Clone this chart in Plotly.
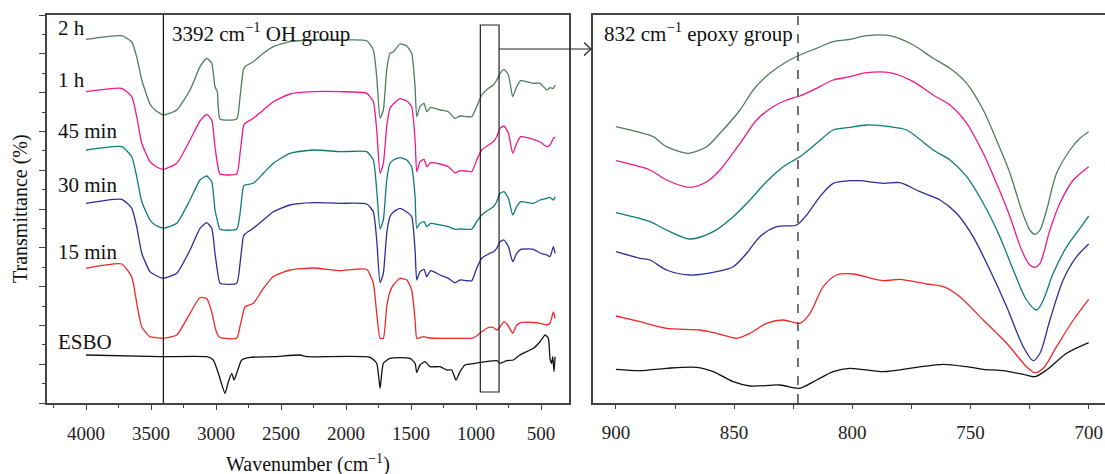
import plotly.graph_objects as go

# ---------------- data (left panel: full spectrum) ----------------
wn_full = [4000, 3725, 3648, 3610, 3571, 3508, 3469, 3405, 3302, 3200, 3123, 3072, 3033, 3008, 2990,
           2969, 2841, 2815, 2790, 2777, 2713, 2636, 2559, 2431, 2251, 2046, 1841, 1790, 1764, 1738,
           1713, 1687, 1662, 1636, 1585, 1533, 1495, 1469, 1456, 1431, 1400, 1379, 1349, 1277, 1213,
           1162, 1123, 1072, 1033, 995, 956, 905, 867, 841, 815, 785, 751, 718, 687, 656,
           559, 508, 456, 431, 405, 392]

t_2h = [363.7, 367.3, 361, 346, 323, 299, 293, 288, 293, 313, 336.3, 344.7, 339.7, 316.3, 311.3,
        284, 284, 306.3, 333, 336.3, 341.3, 349.7, 356.3, 361.3, 363, 363, 362.3, 353, 326.3, 284.7,
        293, 333, 349.7, 351.3, 359, 357, 349.7, 316.3, 286.3, 296.3, 299.7, 291.3, 295.7, 293, 291.3,
        284.7, 287, 286.3, 286.3, 296.3, 308, 314.7, 318, 323, 329.7, 333.7, 328, 306.3, 316.3, 322.3,
        319.7, 319.7, 313, 315.3, 314.7, 318]
t_1h = [311.3, 314.7, 306.3, 286.3, 259.7, 241.3, 237, 233.7, 239.7, 263, 282, 288.7, 283, 256.3, 240,
        229, 229, 249.7, 276.3, 279.7, 284.7, 293, 301.3, 309, 311.3, 311.3, 309.7, 301.3, 273, 229.7,
        239.7, 276.3, 294.7, 299, 304.3, 302, 296.3, 263, 231.3, 241.3, 243.7, 236.3, 240.3, 239, 236.3,
        230.3, 232.3, 232, 231.3, 243, 253, 258, 261.3, 266.3, 274.7, 277, 269.7, 249.7, 259.7, 266.3,
        263.7, 261, 256.3, 258, 264.7, 266]
t_45m = [253, 256.3, 246.3, 226.3, 201.3, 183, 178, 174.7, 179.7, 203, 223, 227, 221.3, 193, 183,
         173.7, 173.7, 189.7, 216.3, 218, 219.7, 229.7, 239.7, 249.7, 253, 251.3, 251.3, 243, 213, 174,
         183, 223, 239.7, 243, 245.3, 243, 236.3, 206.3, 174.7, 179.7, 181.3, 176.3, 179.7, 178, 176.3,
         173.7, 174, 173.7, 173.7, 181.3, 188, 193, 196.3, 201.3, 209.7, 211.3, 204.7, 188, 196.3, 201.3,
         199.7, 203, 204.7, 205.7, 203, 206.3]
t_30m = [199.7, 203.7, 194.7, 176.3, 149.7, 131.3, 128, 124.7, 129.7, 153, 174.7, 180.3, 174.7, 149.7, 133,
         119.7, 119.7, 139.7, 166.3, 169, 174.7, 183, 191.3, 198, 200.3, 199.7, 199, 191.3, 163, 120.3,
         129.7, 169.7, 186.3, 191, 194.7, 191, 186.3, 153, 123, 131.3, 133.7, 126.3, 132.3, 128, 124.7,
         120.3, 123, 122.3, 122.3, 134.7, 144.7, 149, 151.3, 154.7, 161.3, 163, 156.3, 141.3, 149.7, 153.7,
         153.7, 150, 148, 146.3, 156.3, 149.7]
t_15m = [134.7, 139, 126, 100, 76, 66.3, 65.5, 64.7, 68, 89.7, 105.5, 104.5, 91, 76, 69,
         65.5, 64.7, 77, 91, 96.3, 99.7, 114.5, 126.5, 133, 135, 132.3, 133.7, 119.7, 89.7, 64.7,
         64.7, 96.3, 111.3, 118, 124.7, 123, 113, 83, 64.7, 65.5, 66.3, 65.5, 65, 64.7, 64.7,
         64.7, 64.7, 64.7, 64.7, 67, 71.3, 75.5, 75.5, 73, 76, 81.3, 77, 69.7, 78, 80.5,
         80.5, 79.7, 78, 80, 91, 84.7]

wn_esbo = [4000, 3431, 3072, 3021, 2982, 2931, 2905, 2879, 2861, 2841, 2802, 2738, 2559, 2354, 2302,
           1815, 1764, 1738, 1713, 1662, 1508, 1469, 1456, 1431, 1392, 1354, 1277, 1225, 1187, 1154,
           1123, 1085, 1008, 841, 815, 764, 713, 662, 559, 508, 469, 444, 431, 418, 410, 400, 392]
t_esbo = [48, 46.3, 46.3, 43, 29.7, 9.7, 21.3, 29.7, 23, 29.7, 43, 45.7, 46.3, 48, 46.3,
          45.7, 39.7, 14.7, 39.7, 44.7, 44.7, 39.7, 30.5, 38, 41.3, 36.3, 36.3, 33, 33, 23,
          31.3, 38, 39.7, 42.3, 39.7, 42.3, 43, 48, 54.7, 61.3, 68, 64.7, 44.7, 39.7, 46.3, 31.3, 46.3]

# ---------------- data (right panel: 900-700 cm-1 zoom) ----------------
z_wn_2h = [900, 888.5, 884.2, 878.6, 869.4, 861.6, 856, 847.5, 841.9, 834.9, 827.8, 822.2, 815.1, 808.1,
           801, 793.9, 784.1, 774.2, 765.8, 758.7, 751.6, 744.6, 739, 733.3, 728.4, 724.9, 722.8, 720.6,
           717.8, 713.6, 707.9, 703.7, 700]
z_t_2h = [276.3, 269.7, 266.3, 256.3, 249.7, 256.3, 269.7, 293, 313, 329.7, 341.3, 348, 354.7, 361.3,
          363.7, 367.3, 367.3, 358, 344.7, 334.7, 319.7, 293, 263, 229.7, 193, 173, 168.7, 173,
          193, 229.7, 253, 264.7, 271.3]
z_wn_1h = [900, 885.6, 878.6, 868.7, 861.6, 856, 847.5, 840.5, 833.5, 827.8, 822.2, 815.1, 808.1, 801,
           793.9, 784.1, 774.2, 765.8, 758.7, 751.6, 744.6, 739, 733.3, 728.4, 724.9, 722.8, 720.6, 716.4,
           712.2, 706.5, 700]
z_t_1h = [242.3, 233, 223, 215.7, 221.3, 233, 259.7, 283, 296.3, 303, 307, 314.7, 323, 326.3,
          330.3, 330.3, 321.3, 308, 298, 279.7, 249.7, 219.7, 186.3, 153, 138, 135.7, 139.7, 173,
          199.7, 223, 236.3]
z_wn_45m = [900, 885.6, 878.6, 868.7, 858.8, 850.4, 843.3, 836.3, 829.2, 822.2, 815.1, 808.1, 801, 793.9,
            784.1, 777, 765.8, 758.7, 751.6, 744.6, 737.6, 731.9, 726.3, 722, 719.2, 715, 709.3, 703.7, 700]
z_t_45m = [190.3, 181.3, 173, 164, 171.3, 186.3, 203, 221.3, 236.3, 246.3, 259.7, 273, 275.7, 278,
           276.3, 273, 253, 243, 226.3, 199.7, 166.3, 133, 103, 93, 103, 129.7, 156.3, 174.7, 187]
z_wn_30m = [900, 889.8, 885.6, 878.6, 868.7, 857.4, 850.4, 844.7, 839.1, 832, 823.6, 819.3, 813.7, 808.1,
            801, 796.8, 786.9, 779.9, 771.4, 762.9, 755.9, 748.9, 741.8, 734.7, 727.7, 723.5, 720.6, 716.4,
            710.8, 705.1, 700]
z_t_30m = [151.3, 144.7, 143, 133, 128, 131.3, 136.3, 149.7, 166.3, 176.3, 178, 188, 206.3, 219.7,
           222.3, 222.3, 219.7, 220.3, 211.3, 203, 189.7, 166.3, 133, 96.3, 56.3, 42.3, 49.7, 83,
           123, 146.3, 159]
z_wn_15m = [900, 889.8, 878.6, 864.5, 857.4, 848.9, 843.3, 836.3, 829.2, 822.2, 817.9, 812.3, 806.6, 799.6,
            786.9, 779.9, 768.6, 761.5, 754.5, 744.6, 734.7, 726.3, 722.8, 719.2, 713.6, 706.5, 700]
z_t_15m = [87, 81.3, 74.7, 73, 69.7, 64.7, 69.7, 79.7, 83, 79.7, 89.7, 116.3, 128, 129,
           122.3, 123.7, 119, 116.3, 106.3, 83, 59.7, 36.3, 30.3, 34.7, 56.3, 83, 103.7]
z_wn_esbo = [900, 889.8, 878.6, 865.9, 858.8, 850.4, 843.3, 830.6, 822.5, 815.1, 808.1, 801, 786.9, 772.8,
             761.5, 751.6, 744.6, 736.2, 727.7, 722.8, 717.8, 709.3, 700]
z_t_esbo = [33.7, 32.3, 34.7, 35.7, 31.3, 21.3, 17, 18, 14.7, 23, 31.3, 34.7, 31.3, 35.7,
            38.7, 36.3, 33.7, 32.3, 28.7, 26.3, 33, 49.7, 60.3]

series_names = ["2 h", "1 h", "45 min", "30 min", "15 min", "ESBO"]
colors = ["#4e7d5e", "#f0188c", "#0f7a7b", "#2b2e96", "#f02828", "#111111"]
left_x = [wn_full, wn_full, wn_full, wn_full, wn_full, wn_esbo]
left_y = [t_2h, t_1h, t_45m, t_30m, t_15m, t_esbo]
right_x = [z_wn_2h, z_wn_1h, z_wn_45m, z_wn_30m, z_wn_15m, z_wn_esbo]
right_y = [z_t_2h, z_t_1h, z_t_45m, z_t_30m, z_t_15m, z_t_esbo]
label_y = [375, 323, 272, 218, 151, 61]

oh_line = 3405
epoxy_line = 823
box_x = [967, 823]
box_y = [11, 378]

# ---------------- figure ----------------
W, H = 1105, 474
FONT = "Liberation Serif, Times New Roman, serif"


def px(x):
    return x / W


def py(y):
    return 1 - y / H


fig = go.Figure()
for xs, ys, c, n in zip(left_x, left_y, colors, series_names):
    fig.add_trace(go.Scatter(x=xs, y=ys, mode="lines", name=n, xaxis="x", yaxis="y",
                             line=dict(color=c, width=1.3, shape="spline", smoothing=0.5),
                             showlegend=False, hoverinfo="skip"))
for xs, ys, c, n in zip(right_x, right_y, colors, series_names):
    fig.add_trace(go.Scatter(x=xs, y=ys, mode="lines", name=n, xaxis="x2", yaxis="y2",
                             line=dict(color=c, width=1.3, shape="spline", smoothing=0.8),
                             showlegend=False, hoverinfo="skip"))

axis_common = dict(showline=True, linecolor="#444444", linewidth=1.5, mirror=True,
                   showgrid=False, zeroline=False, ticks="outside", tickcolor="#444444",
                   automargin=False,
                   tickfont=dict(family=FONT, size=19, color="#222222"))

fig.update_layout(
    width=W, height=H, margin=dict(l=0, r=0, t=0, b=0, pad=0),
    paper_bgcolor="white", plot_bgcolor="white",
    xaxis=dict(domain=[px(47), px(569)], range=[4300, 285], tickmode="array",
               tickvals=[4000, 3500, 3000, 2500, 2000, 1500, 1000, 500], ticklen=5, tickwidth=1.2,
               minor=dict(dtick=250, tick0=0, ticks="outside", ticklen=3, tickcolor="#444444"),
               ticklabelstandoff=7, anchor="y", **axis_common),
    yaxis=dict(domain=[py(403), py(15)], range=[0, 388], tick0=0, dtick=38.8, ticklen=6,
               tickwidth=1.2, showticklabels=False,
               minor=dict(dtick=19.4, tick0=0, ticks="outside", ticklen=3, tickcolor="#444444"),
               anchor="x", **axis_common),
    xaxis2=dict(domain=[px(593), 1.0], range=[909.7, 693.1], tickmode="array",
                tickvals=[900, 850, 800, 750, 700], ticklen=4, tickwidth=1.2,
                minor=dict(dtick=25, tick0=0, ticks="outside", ticklen=4, tickcolor="#444444"),
                ticklabelstandoff=7, anchor="y2", **axis_common),
    yaxis2=dict(domain=[py(403), py(15)], range=[0, 388], showticklabels=False,
                anchor="x2", **{**axis_common, "ticks": ""}),
)

shapes = [
    dict(type="line", xref="x", yref="y domain", x0=oh_line, x1=oh_line, y0=0, y1=1,
         line=dict(color="#111111", width=1.2)),
    dict(type="line", xref="x2", yref="y2 domain", x0=epoxy_line, x1=epoxy_line, y0=0, y1=1,
         line=dict(color="#444444", width=1.5, dash="dash")),
    dict(type="rect", xref="x", yref="y", x0=box_x[0], x1=box_x[1], y0=box_y[0], y1=box_y[1],
         line=dict(color="#222222", width=1.2)),
    dict(type="line", xref="paper", yref="paper", x0=px(499), x1=px(591), y0=py(49), y1=py(49),
         line=dict(color="#222222", width=1.2)),
    dict(type="path", xref="paper", yref="paper",
         path=f"M {px(584)} {py(42.5)} L {px(591)} {py(49)} L {px(584)} {py(55.5)}",
         line=dict(color="#222222", width=1.2)),
]
fig.update_layout(shapes=shapes)

LABEL_SIZE = 21
annotations = []
for n, yv in zip(series_names, label_y):
    annotations.append(dict(x=4232, y=yv, xref="x", yref="y", text=n, showarrow=False,
                            xanchor="left", yanchor="middle",
                            font=dict(family=FONT, size=LABEL_SIZE, color="#111111")))
annotations.append(dict(x=3356, y=370, xref="x", yref="y",
                        text="3392 cm<sup>−1</sup> OH group", showarrow=False,
                        xanchor="left", yanchor="middle",
                        font=dict(family=FONT, size=LABEL_SIZE, color="#111111")))
annotations.append(dict(x=906, y=370, xref="x2", yref="y2",
                        text="832 cm<sup>−1</sup> epoxy group", showarrow=False,
                        xanchor="left", yanchor="middle",
                        font=dict(family=FONT, size=LABEL_SIZE, color="#111111")))
annotations.append(dict(x=px(308), y=py(463), xref="paper", yref="paper",
                        text="Wavenumber (cm<sup>−1</sup>)", showarrow=False,
                        xanchor="center", yanchor="middle",
                        font=dict(family=FONT, size=20, color="#111111")))
annotations.append(dict(x=px(20), y=py(209), xref="paper", yref="paper",
                        text="Transmittance (%)", showarrow=False, textangle=-90,
                        xanchor="center", yanchor="middle",
                        font=dict(family=FONT, size=20, color="#111111")))
fig.update_layout(annotations=annotations)

fig.write_html("out.html", config={"displayModeBar": False},
               post_script="document.body.style.margin='0';document.body.style.overflow='hidden';")
